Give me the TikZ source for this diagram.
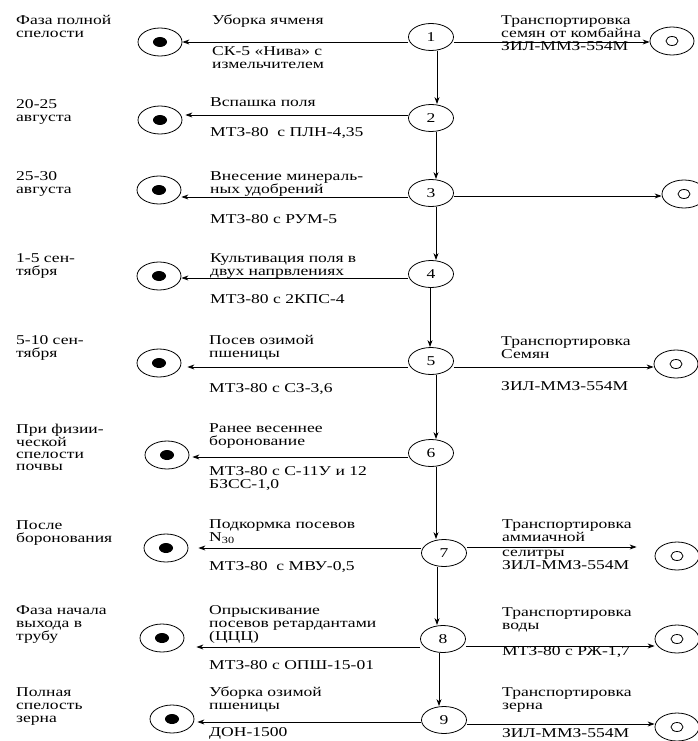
\documentclass[tikz,border=0pt]{standalone}
\usepackage{fontspec}
\setmainfont{Liberation Serif}[FakeStretch=1.3]
\usetikzlibrary{shapes.geometric,arrows.meta}
\newcommand\txtfont{\fontsize{13.5}{13}\selectfont}
\newcommand\tightfont{\fontsize{13.5}{12}\selectfont}
\begin{document}
\begin{tikzpicture}[x=1pt,y=-1pt,
  num/.style={ellipse, draw, line width=0.8pt, minimum width=45pt, minimum height=27pt, inner sep=0pt, font=\txtfont},
  lc/.style={ellipse, draw, line width=0.8pt, minimum width=44pt, minimum height=28pt, inner sep=0pt,
     path picture={\fill (path picture bounding box.center) ellipse (7pt and 5pt);}},
  rc/.style={ellipse, draw, line width=0.8pt, minimum width=44pt, minimum height=28pt, inner sep=0pt,
     path picture={\draw[line width=0.8pt] (path picture bounding box.center) ellipse (6pt and 4.5pt);}},
  lbl/.style={anchor=north west, inner sep=0pt, align=left, font=\txtfont, execute at begin node=\strut},
  lbltight/.style={anchor=north west, inner sep=0pt, align=left, font=\tightfont, execute at begin node=\strut},
  arr/.style={-{Stealth[length=7pt,width=5pt]}, line width=0.8pt}]
\useasboundingbox (0,0) rectangle (698,741);
\fill[white] (0,0) rectangle (698,741);

% row coordinates (left lines / right lines)
\coordinate (r1) at (0,42);
\coordinate (r2) at (0,115);
\coordinate (r3) at (0,197);
\coordinate (r4) at (0,278);
\coordinate (r5) at (0,367);
\coordinate (r6) at (0,457);
\coordinate (r7) at (0,548);
\coordinate (r8) at (0,647);
\coordinate (r9) at (0,722);
\coordinate (q1) at (0,42);
\coordinate (q3) at (0,196);
\coordinate (q5) at (0,367);
\coordinate (q7) at (0,547);
\coordinate (q8) at (0,646);
\coordinate (q9) at (0,724);

% numbered events
\node[num] (e1) at (431,37) {1};
\node[num] (e2) at (431,118) {2};
\node[num] (e3) at (431,193) {3};
\node[num] (e4) at (431,274) {4};
\node[num] (e5) at (431,361) {5};
\node[num] (e6) at (431,453) {6};
\node[num] (e7) at (444,553) {7};
\node[num] (e8) at (443,639) {8};
\node[num] (e9) at (444,720) {9};

% left circles
\node[lc] (c1) at (160,42) {};
\node[lc] (c2) at (160,120) {};
\node[lc] (c3) at (159,190) {};
\node[lc] (c4) at (159,276) {};
\node[lc] (c5) at (159,363) {};
\node[lc] (c6) at (167,455) {};
\node[lc] (c7) at (166,548) {};
\node[lc] (c8) at (162,638) {};
\node[lc] (c9) at (172,719) {};

% right circles
\node[rc] (d1) at (672,41) {};
\node[rc] (d3) at (684,194) {};
\node[rc] (d5) at (676,364) {};
\node[rc] (d7) at (677,556) {};
\node[rc] (d8) at (677,639) {};
\node[rc] (d9) at (677,727) {};

% vertical arrows
\draw[arr] ([xshift=6pt]e1.south) -- ([xshift=6pt]e2.north);
\draw[arr] ([xshift=5pt]e2.south) -- ([xshift=5pt]e3.north);
\draw[arr] ([xshift=5pt]e3.south) -- ([xshift=5pt]e4.north);
\draw[arr] ([xshift=-1pt]e4.south) -- ([xshift=-1pt]e5.north);
\draw[arr] ([xshift=5pt]e5.south) -- ([xshift=5pt]e6.north);
\draw[arr] ([xshift=5pt]e6.south) -- ([xshift=-8pt]e7.north);
\draw[arr] ([xshift=-7pt]e7.south) -- ([xshift=-6pt]e8.north);
\draw[arr] ([xshift=-4pt]e8.south) -- ([xshift=-5pt]e9.north);

% left arrows
\draw[arr] (e1.west |- r1) -- (c1.east |- r1);
\draw[arr, shorten >=3pt] (e2.west |- r2) -- (c2.east |- r2);
\draw[arr] (e3.west |- r3) -- (c3.east |- r3);
\draw[arr] (e4.west |- r4) -- (c4.east |- r4);
\draw[arr, shorten >=6pt] (e5.west |- r5) -- (c5.east |- r5);
\draw[arr, shorten >=3pt] (e6.west |- r6) -- (c6.east |- r6);
\draw[arr, shorten >=10pt] (e7.west |- r7) -- (c7.east |- r7);
\draw[arr, shorten >=12pt] (e8.west |- r8) -- (c8.east |- r8);
\draw[arr, shorten >=3pt] (e9.west |- r9) -- (c9.east |- r9);

% right arrows
\draw[arr] (e1.east |- q1) -- (d1.west |- q1);
\draw[arr] (e3.east |- q3) -- (d3.west |- q3);
\draw[arr] (e5.east |- q5) -- (d5.west |- q5);
\draw[arr, shorten >=18pt] (e7.east |- q7) -- (d7.west |- q7);
\draw[arr] (e8.east |- q8) -- (d8.west |- q8);
\draw[arr] (e9.east |- q9) -- (d9.west |- q9);

% left labels (dates / phases)
\node[lbl] (l1) at (16,15) {Фаза полной\\спелости};
\node[lbl] (l2) at (16,99) {20-25\\августа};
\node[lbl] (l3) at (16,171) {25-30\\августа};
\node[lbl] (l4) at (16,253) {1-5 сен-\\тября};
\node[lbl] (l5) at (16,335) {5-10 сен-\\тября};
\node[lbltight] (l6) at (16,424) {При физии-\\ческой\\спелости\\почвы};
\node[lbl] (l7) at (16,520) {После\\боронования};
\node[lbl] (l8) at (16,605) {Фаза начала\\выхода в\\трубу};
\node[lbl] (l9) at (16,687) {Полная\\спелость\\зерна};

% operation labels (above lines)
\node[lbl] (m1) at (212,15) {Уборка ячменя};
\node[lbl] (m2) at (210,97) {Вспашка поля};
\node[lbl] (m3) at (210,171) {Внесение минераль-\\ных удобрений};
\node[lbl] (m4) at (210,253) {Культивация поля в\\двух напрвлениях};
\node[lbl] (m5) at (209,335) {Посев озимой\\пшеницы};
\node[lbl] (m6) at (209,423) {Ранее весеннее\\боронование};
\node[lbl] (m7) at (209,519) {Подкормка посевов\\N\textsubscript{30}};
\node[lbl] (m8) at (209,605) {Опрыскивание\\посевов ретардантами\\(ЦЦЦ)};
\node[lbl] (m9) at (209,687) {Уборка озимой\\пшеницы};

% machinery labels (below lines)
\node[lbl] (n1) at (212,46) {СК-5 «Нива» с\\измельчителем};
\node[lbl] (n2) at (210,127) {МТЗ-80~ с ПЛН-4,35};
\node[lbl] (n3) at (210,214) {МТЗ-80 с РУМ-5};
\node[lbl] (n4) at (210,294) {МТЗ-80 с 2КПС-4};
\node[lbl] (n5) at (209,383) {МТЗ-80 с СЗ-3,6};
\node[lbl] (n6) at (209,466) {МТЗ-80 с С-11У и 12\\БЗСС-1,0};
\node[lbl] (n7) at (209,561) {МТЗ-80~ с МВУ-0,5};
\node[lbl] (n8) at (209,660) {МТЗ-80 с ОПШ-15-01};
\node[lbl] (n9) at (209,727) {ДОН-1500};

% transport labels
\node[lbl] (t1) at (501,15) {Транспортировка\\семян от комбайна\\ЗИЛ-ММЗ-554М};
\node[lbl] (t5) at (501,336) {Транспортировка\\Семян};
\node[lbl] (u5) at (501,381) {ЗИЛ-ММЗ-554М};
\node[lbl] (t7) at (502,519) {Транспортировка\\аммиачной\\[2pt]селитры\\ЗИЛ-ММЗ-554М};
\node[lbl] (t8) at (502,607) {Транспортировка\\воды};
\node[lbl] (u8) at (502,646) {МТЗ-80 с РЖ-1,7};
\node[lbl] (t9) at (502,687) {Транспортировка\\зерна};
\node[lbl] (u9) at (502,728) {ЗИЛ-ММЗ-554М};
\end{tikzpicture}
\end{document}
